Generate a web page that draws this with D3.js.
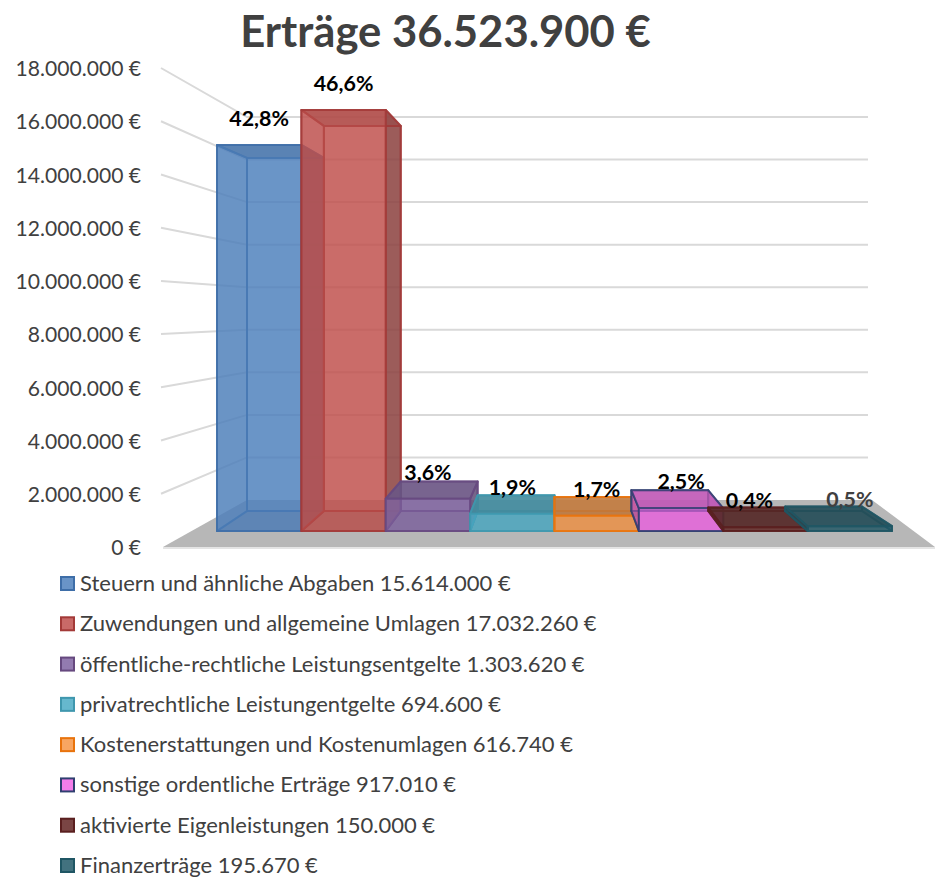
<!DOCTYPE html>
<html lang="de">
<head>
<meta charset="UTF-8">
<title>Erträge</title>
<script src="https://cdn.jsdelivr.net/npm/d3@7.8.5/dist/d3.min.js"></script>
<style>
    html, body { margin: 0; padding: 0; background: #fff; overflow: hidden; }
    svg { display: block; }
    text { font-family: Lato, 'Open Sans', sans-serif; }
    .bar path { stroke-width: 2; stroke-linejoin: round; }
</style>
</head>
<body>
<svg id="chart" width="935" height="878"></svg>
<script>
// Daten
const categories = [
    'Steuern und ähnliche Abgaben',
    'Zuwendungen und allgemeine Umlagen',
    'öffentliche-rechtliche Leistungsentgelte',
    'privatrechtliche Leistungentgelte',
    'Kostenerstattungen und Kostenumlagen',
    'sonstige ordentliche Erträge',
    'aktivierte Eigenleistungen',
    'Finanzerträge'
];
const values = [15614000, 17032260, 1303620, 694600, 616740, 917010, 150000, 195670];
const yTicks = [0, 2000000, 4000000, 6000000, 8000000, 10000000, 12000000, 14000000, 16000000, 18000000];
const fills = ['#4f81bd', '#c0504d', '#8064a2', '#4bacc6', '#f79646', '#f266e6', '#632523', '#215968'];
const strokes = ['#3e6ea8', '#a33a38', '#66497f', '#3f97ae', '#e8730c', '#2f3f70', '#5a1f1f', '#1f5664'];

const de = d3.formatLocale({ decimal: ',', thousands: '.', grouping: [3], currency: ['', ' €'] });
const euro = d => de.format(',')(d) + ' €';
const pct = de.format('.1%');
const total = d3.sum(values);

const svg = d3.select('#chart');

// Skalen: vorne = Balkenfront, hinten = Rueckseite (Perspektive)
const axisY = d3.scaleLinear().domain([0, 18000000]).range([547, 68]);
const wallY = d3.scaleLinear().domain([0, 18000000]).range([500, 117]);
const frontY = d3.scaleLinear().domain([0, 18000000]).range([531, 86]);
const backY = d3.scaleLinear().domain([0, 18000000]).range([511, 104]);
const frontX = d3.scaleBand().domain(categories).range([217, 892]);
const backX = d3.scaleLinear().domain([217, 892]).range([247, 862]);

// Titel
svg.append('text')
    .attr('x', 445.5).attr('y', 47)
    .attr('text-anchor', 'middle')
    .attr('font-size', 43.6).attr('font-weight', 700)
    .attr('fill', '#404040')
    .text('Erträge ' + euro(total));

// Boden
svg.append('path')
    .attr('d', d3.line()([[163, axisY(0)], [247, wallY(0)], [872, wallY(0)], [935, axisY(0)]]) + 'Z')
    .attr('fill', '#b7b7b7');
svg.append('line')
    .attr('x1', 163).attr('x2', 935)
    .attr('y1', axisY(0) + 1).attr('y2', axisY(0) + 1)
    .attr('stroke', '#e4e4e4').attr('stroke-width', 2);

// Gitterlinien
svg.append('g').selectAll('path')
    .data(yTicks.slice(1))
    .enter()
    .append('path')
    .attr('d', d => d3.line()([[161, axisY(d)], [247, wallY(d)], [868, wallY(d)]]))
    .attr('fill', 'none')
    .attr('stroke', '#d9d9d9')
    .attr('stroke-width', 2);

// y-Achse
const yAxis = svg.append('g')
    .attr('transform', 'translate(141,1)')
    .call(d3.axisLeft(axisY).tickValues(yTicks).tickSize(0).tickPadding(0).tickFormat(euro));
yAxis.select('.domain').remove();
yAxis.selectAll('text').attr('font-size', 21.1).attr('fill', '#404040');

// Balken
const bars = svg.append('g').selectAll('g')
    .data(categories)
    .enter()
    .append('g')
    .attr('class', 'bar');

const poly = pts => d3.line()(pts) + 'Z';

bars.each(function (c, i) {
    const g = d3.select(this);
    const x0 = frontX(c), x1 = x0 + frontX.bandwidth();
    const bx0 = backX(x0), bx1 = backX(x1);
    const v = values[i];
    const ft = frontY(v), fb = frontY(0), bt = backY(v), bb = backY(0);
    const faces = [
        { d: poly([[bx0, bt], [bx1, bt], [bx1, bb], [bx0, bb]]), o: 0.6, dark: 0 },      // hinten
        { d: poly([[x0, fb], [bx0, bb], [bx1, bb], [x1, fb]]), o: 0.6, dark: 0.2 },      // unten
        { d: poly([[x0, ft], [bx0, bt], [bx0, bb], [x0, fb]]), o: 0.6, dark: x0 < 554 ? 0.05 : 0.35 }, // links
        { d: poly([[x1, ft], [bx1, bt], [bx1, bb], [x1, fb]]), o: 0.7, dark: x1 < 554 ? 0.45 : 0.05 }, // rechts
        { d: poly([[x0, ft], [bx0, bt], [bx1, bt], [x1, ft]]), o: 0.8, dark: 0.3 },      // oben
        { d: poly([[x0, ft], [x1, ft], [x1, fb], [x0, fb]]), o: 0.6, dark: 0 }           // vorne
    ];
    g.selectAll('path')
        .data(faces)
        .enter()
        .append('path')
        .attr('d', f => f.d)
        .attr('fill', f => d3.interpolateRgb(fills[i], '#333')(f.dark))
        .attr('fill-opacity', f => f.o)
        .attr('stroke', strokes[i])
        .attr('stroke-opacity', 0.8);
});

// Prozentwerte
svg.append('g').selectAll('text')
    .data(categories)
    .enter()
    .append('text')
    .attr('x', (c, i) => frontX(c) + frontX.bandwidth() / 2 + (i === 6 ? -16 : 0))
    .attr('y', (c, i) => frontY(values[i]) - 19)
    .attr('text-anchor', 'middle')
    .attr('font-size', 21.4).attr('font-weight', 700)
    .attr('fill', (c, i) => i === 7 ? '#404040' : '#000')
    .text((c, i) => pct(values[i] / total));

// Legende
const legendY = d3.scalePoint().domain(categories).range([584, 866]);
const legend = svg.append('g').selectAll('g')
    .data(categories)
    .enter()
    .append('g')
    .attr('transform', c => `translate(0,${legendY(c)})`);

legend.append('rect')
    .attr('x', 61).attr('y', -7)
    .attr('width', 13).attr('height', 13)
    .attr('fill', (c, i) => fills[i])
    .attr('fill-opacity', 0.85)
    .attr('stroke', (c, i) => strokes[i])
    .attr('stroke-width', 2);

legend.append('text')
    .attr('x', 80).attr('y', 7)
    .attr('font-size', 22)
    .attr('fill', '#404040')
    .text((c, i) => c + ' ' + euro(values[i]));
</script>
</body>
</html>
